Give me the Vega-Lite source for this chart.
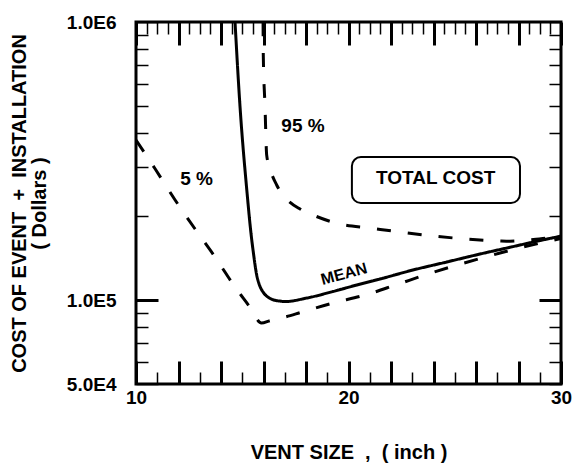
{
  "$schema": "https://vega.github.io/schema/vega-lite/v6.json",
  "width": 425,
  "height": 362,
  "padding": {"left": 9, "top": 13, "right": 10, "bottom": 2},
  "background": "white",
  "config": {
    "view": {"stroke": "black", "strokeWidth": 3},
    "font": "Liberation Sans",
    "axis": {
      "domain": false,
      "grid": false,
      "tickColor": "black",
      "labelColor": "black",
      "titleColor": "black",
      "labelFont": "Liberation Sans",
      "labelFontSize": 19,
      "labelFontWeight": "bold",
      "titleFont": "Liberation Sans",
      "titleFontSize": 20,
      "titleFontWeight": "bold",
      "labelFlush": false,
      "labelOverlap": false
    }
  },
  "datasets": {
    "curves": [
      {"series": "MEAN", "size": 14.66, "cost": 1000000},
      {"series": "MEAN", "size": 14.89, "cost": 503000},
      {"series": "MEAN", "size": 15.21, "cost": 251000},
      {"series": "MEAN", "size": 15.44, "cost": 166400},
      {"series": "MEAN", "size": 15.52, "cost": 149000},
      {"series": "MEAN", "size": 15.68, "cost": 123200},
      {"series": "MEAN", "size": 15.8, "cost": 114000},
      {"series": "MEAN", "size": 15.98, "cost": 107000},
      {"series": "MEAN", "size": 16.15, "cost": 103500},
      {"series": "MEAN", "size": 16.45, "cost": 100400},
      {"series": "MEAN", "size": 16.78, "cost": 99300},
      {"series": "MEAN", "size": 17.01, "cost": 98900},
      {"series": "MEAN", "size": 18.03, "cost": 101800},
      {"series": "MEAN", "size": 19.27, "cost": 107500},
      {"series": "MEAN", "size": 20.4, "cost": 113500},
      {"series": "MEAN", "size": 21.48, "cost": 119200},
      {"series": "MEAN", "size": 23.03, "cost": 128400},
      {"series": "MEAN", "size": 24.62, "cost": 137200},
      {"series": "MEAN", "size": 26.19, "cost": 146600},
      {"series": "MEAN", "size": 27.6, "cost": 155000},
      {"series": "MEAN", "size": 28.92, "cost": 163300},
      {"series": "MEAN", "size": 30.0, "cost": 170000},
      {"series": "5 %", "size": 10.0, "cost": 376500},
      {"series": "5 %", "size": 10.89, "cost": 297400},
      {"series": "5 %", "size": 11.84, "cost": 229200},
      {"series": "5 %", "size": 12.78, "cost": 180300},
      {"series": "5 %", "size": 13.72, "cost": 143000},
      {"series": "5 %", "size": 14.66, "cost": 111600},
      {"series": "5 %", "size": 15.36, "cost": 94500},
      {"series": "5 %", "size": 15.9, "cost": 82800},
      {"series": "5 %", "size": 16.31, "cost": 84500},
      {"series": "5 %", "size": 17.01, "cost": 87000},
      {"series": "5 %", "size": 17.81, "cost": 90700},
      {"series": "5 %", "size": 19.27, "cost": 97700},
      {"series": "5 %", "size": 20.78, "cost": 104400},
      {"series": "5 %", "size": 22.28, "cost": 113900},
      {"series": "5 %", "size": 23.74, "cost": 124200},
      {"series": "5 %", "size": 25.11, "cost": 133800},
      {"series": "5 %", "size": 27.13, "cost": 147800},
      {"series": "5 %", "size": 28.92, "cost": 159900},
      {"series": "5 %", "size": 30.0, "cost": 166600},
      {"series": "95 %", "size": 15.98, "cost": 1000000},
      {"series": "95 %", "size": 15.99, "cost": 761000},
      {"series": "95 %", "size": 16.07, "cost": 500000},
      {"series": "95 %", "size": 16.15, "cost": 332400},
      {"series": "95 %", "size": 16.31, "cost": 296200},
      {"series": "95 %", "size": 16.62, "cost": 259500},
      {"series": "95 %", "size": 17.09, "cost": 231100},
      {"series": "95 %", "size": 17.72, "cost": 212800},
      {"series": "95 %", "size": 18.33, "cost": 202400},
      {"series": "95 %", "size": 19.6, "cost": 187900},
      {"series": "95 %", "size": 21.01, "cost": 181800},
      {"series": "95 %", "size": 22.42, "cost": 175900},
      {"series": "95 %", "size": 23.98, "cost": 170100},
      {"series": "95 %", "size": 25.56, "cost": 166000},
      {"series": "95 %", "size": 27.13, "cost": 163300},
      {"series": "95 %", "size": 27.6, "cost": 163000},
      {"series": "95 %", "size": 28.21, "cost": 164000},
      {"series": "95 %", "size": 29.81, "cost": 168700},
      {"series": "95 %", "size": 30.0, "cost": 169200}
    ],
    "labels": [
      {"text": "95 %", "size": 17.86, "cost": 424600},
      {"text": "5 %", "size": 12.85, "cost": 273700}
    ],
    "curveLabel": [
      {"text": "MEAN", "size": 19.79, "cost": 124200}
    ],
    "box": [
      {"text": "TOTAL COST", "size": 20.16, "size2": 28.07, "cost": 327000, "cost2": 223600, "mid": 24.1, "costMid": 274900}
    ]
  },
  "layer": [
    {
      "data": {"name": "curves"},
      "mark": {"type": "line", "color": "black", "strokeWidth": 3, "interpolate": "monotone", "clip": true},
      "encoding": {
        "x": {
          "field": "size",
          "type": "quantitative",
          "scale": {"domain": [10, 30], "nice": false, "zero": false},
          "axis": {
            "orient": "bottom",
            "values": [10, 10.5, 11, 11.5, 12, 12.5, 13, 13.5, 14, 14.5, 15, 15.5, 16, 16.5, 17, 17.5, 18, 18.5, 19, 19.5, 20, 20.5, 21, 21.5, 22, 22.5, 23, 23.5, 24, 24.5, 25, 25.5, 26, 26.5, 27, 27.5, 28, 28.5, 29, 29.5, 30],
            "format": "d",
            "tickSize": {"condition": {"test": "datum.value % 2 === 0", "value": -23}, "value": -12},
            "tickWidth": {"condition": {"test": "datum.value % 2 === 0", "value": 3}, "value": 1.5},
            "labelExpr": "datum.value % 10 === 0 ? datum.label : ''",
            "labelPadding": 27,
            "title": "VENT SIZE\u00a0\u00a0,\u00a0\u00a0( inch )",
            "titlePadding": 24
          }
        },
        "y": {
          "field": "cost",
          "type": "quantitative",
          "scale": {"type": "log", "domain": [50000, 1000000], "nice": false},
          "axis": {
            "orient": "left",
            "values": [50000, 60000, 70000, 80000, 90000, 100000, 200000, 300000, 400000, 500000, 600000, 700000, 800000, 900000, 1000000],
            "tickSize": {"condition": {"test": "datum.value === 100000 || datum.value === 50000 || datum.value === 1000000", "value": -22}, "value": -12},
            "tickWidth": {"condition": {"test": "datum.value === 100000", "value": 3}, "value": 1.5},
            "labelExpr": "datum.value === 50000 ? '5.0E4' : datum.value === 100000 ? '1.0E5' : datum.value === 1000000 ? '1.0E6' : ''",
            "labelPadding": 42,
            "title": ["COST OF EVENT\u00a0\u00a0+\u00a0\u00a0INSTALLATION", "( Dollars )"],
            "titleLineHeight": 20,
            "titlePadding": 17
          }
        },
        "detail": {"field": "series"},
        "strokeDash": {
          "field": "series",
          "type": "nominal",
          "scale": {"domain": ["MEAN", "5 %", "95 %"], "range": [[1, 0], [14, 17], [14, 17]]},
          "legend": null
        }
      }
    },
    {
      "data": {"name": "labels"},
      "mark": {"type": "text", "font": "Liberation Sans", "fontSize": 19, "fontWeight": "bold", "color": "black"},
      "encoding": {
        "x": {
          "field": "size",
          "type": "quantitative",
          "scale": {"domain": [10, 30], "nice": false, "zero": false},
          "axis": {
            "orient": "top",
            "values": [10, 10.5, 11, 11.5, 12, 12.5, 13, 13.5, 14, 14.5, 15, 15.5, 16, 16.5, 17, 17.5, 18, 18.5, 19, 19.5, 20, 20.5, 21, 21.5, 22, 22.5, 23, 23.5, 24, 24.5, 25, 25.5, 26, 26.5, 27, 27.5, 28, 28.5, 29, 29.5, 30],
            "tickSize": {"condition": {"test": "datum.value % 2 === 0", "value": -23}, "value": -12},
            "tickWidth": {"condition": {"test": "datum.value % 2 === 0", "value": 3}, "value": 1.5},
            "labels": false,
            "title": null
          }
        },
        "y": {
          "field": "cost",
          "type": "quantitative",
          "scale": {"type": "log", "domain": [50000, 1000000], "nice": false},
          "axis": {
            "orient": "right",
            "values": [50000, 60000, 70000, 80000, 90000, 100000, 200000, 300000, 400000, 500000, 600000, 700000, 800000, 900000, 1000000],
            "tickSize": {"condition": {"test": "datum.value === 100000", "value": -22}, "value": -12},
            "tickWidth": {"condition": {"test": "datum.value === 100000", "value": 3}, "value": 1.5},
            "labels": false,
            "title": null
          }
        },
        "text": {"field": "text"}
      }
    },
    {
      "data": {"name": "curveLabel"},
      "mark": {"type": "text", "font": "Liberation Sans", "fontSize": 16, "fontWeight": "bold", "color": "black", "angle": 345},
      "encoding": {
        "x": {"field": "size", "type": "quantitative", "axis": null},
        "y": {"field": "cost", "type": "quantitative", "axis": null},
        "text": {"field": "text"}
      }
    },
    {
      "data": {"name": "box"},
      "mark": {"type": "rect", "fill": "black", "cornerRadius": 9, "xOffset": 3, "yOffset": 3},
      "encoding": {
        "x": {"field": "size", "type": "quantitative", "axis": null},
        "x2": {"field": "size2"},
        "y": {"field": "cost", "type": "quantitative", "axis": null},
        "y2": {"field": "cost2"}
      }
    },
    {
      "data": {"name": "box"},
      "mark": {"type": "rect", "fill": "white", "stroke": "black", "strokeWidth": 2, "cornerRadius": 9},
      "encoding": {
        "x": {"field": "size", "type": "quantitative", "axis": null},
        "x2": {"field": "size2"},
        "y": {"field": "cost", "type": "quantitative", "axis": null},
        "y2": {"field": "cost2"}
      }
    },
    {
      "data": {"name": "box"},
      "mark": {"type": "text", "font": "Liberation Sans", "fontSize": 19, "fontWeight": "bold", "color": "black"},
      "encoding": {
        "x": {"field": "mid", "type": "quantitative", "axis": null},
        "y": {"field": "costMid", "type": "quantitative", "axis": null},
        "text": {"field": "text"}
      }
    }
  ],
  "resolve": {"axis": {"x": "independent", "y": "independent"}}
}
